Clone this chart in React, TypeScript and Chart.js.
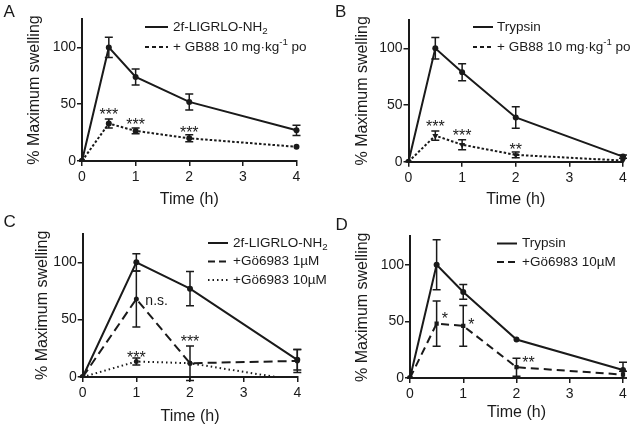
import React, { useEffect, useRef } from 'react';
import { Chart, registerables } from 'chart.js';

Chart.register(...registerables);

const FONT = '"Liberation Sans", Arial, Helvetica, sans-serif';
const INK = '#1a1a1a';

// ---------- Panel A: 2f-LIGRLO-NH2 +/- GB88 ----------
const timeA = [0, 0.5, 1, 2, 4];
const aAgonist = [0, 100, 74, 52, 27];
const aAgonistErr = [0, 9, 7, 7, 4.5];
const aGB88 = [0, 33, 26.5, 20, 12.5];
const aGB88Err = [0, 4, 2.6, 3, 0];
const aStarLabels = ['***', '***', '***'];
const aStarTimes = [0.5, 1, 2];
const aStarValues = [44, 35, 28];

// ---------- Panel B: Trypsin +/- GB88 ----------
const timeB = [0, 0.5, 1, 2, 4];
const bTrypsin = [0, 100, 79, 39, 4.5];
const bTrypsinErr = [0, 9.5, 7.5, 9.5, 1.5];
const bGB88 = [0, 23, 15, 6, 1];
const bGB88Err = [0, 4, 4.4, 2.6, 0];
const bStarLabels = ['***', '***', '**'];
const bStarTimes = [0.5, 1, 2];
const bStarValues = [34, 26, 14];

// ---------- Panel C: 2f-LIGRLO-NH2 +/- Gö6983 ----------
const timeC = [0, 1, 2, 4];
const cAgonist = [0, 100, 77, 15];
const cAgonistErr = [0, 7.5, 15, 9];
const cGo1 = [0, 68, 12, 14];
const cGo1Err = [0, 24.5, 15, 10];
const cGo10 = [0, 13.5, 12, -3];
const cGo10Err = [0, 3, 0, 0];
const cStarLabels = ['n.s.', '***', '***'];
const cStarTimes = [1, 1, 2];
const cStarValues = [66, 20, 34];

// ---------- Panel D: Trypsin +/- Gö6983 ----------
const timeD = [0, 0.5, 1, 2, 4];
const dTrypsin = [0, 100, 76, 34, 7];
const dTrypsinErr = [0, 22, 6.5, 0, 7];
const dGo10 = [0, 48, 46, 9.5, 3];
const dGo10Err = [0, 20, 18, 8, 3];
const dStarLabels = ['*', '*', '**'];
const dStarTimes = [0.5, 1, 2];
const dStarValues = [56, 50, 17];

// ---------- axes ----------
const xTickValues = [0, 1, 2, 3, 4];
const yTickValues = [0, 50, 100];
const yMax = 125;
const xTitle = 'Time (h)';
const yTitle = '% Maximum swelling';

type Seg = { t: string; sub?: boolean; sup?: boolean };
type SeriesCfg = {
  values: number[];
  errors: number[];
  dash: number[];
  width: number;
  pointStyle: string;
  pointRotation?: number;
  radius: number;
  legend: Seg[];
  legendDash: number[];
};
type PanelCfg = {
  letter: string;
  left: number;
  top: number;
  width: number;
  height: number;
  times: number[];
  series: SeriesCfg[];
  starLabels: string[];
  starTimes: number[];
  starValues: number[];
  starAlign: string[];
  starDx: number[];
  yWidth: number;
  padTop: number;
  padRight: number;
  xHeight: number;
  yTitlePad: number;
  xTitlePad: number;
  legX0: number;
  legX1: number;
  legTx: number;
  legRows: number[];
  letterX: number;
  letterY: number;
};

const agonistLabel: Seg[] = [{ t: '2f-LIGRLO-NH' }, { t: '2', sub: true }];
const gb88Label: Seg[] = [{ t: '+ GB88 10 mg\u00b7kg' }, { t: '-1', sup: true }, { t: ' po' }];
const trypsinLabel: Seg[] = [{ t: 'Trypsin' }];

const SOLID: number[] = [];
const DOTTED = [2.5, 2];
const DASHED = [9, 5];

const panels: PanelCfg[] = [
  {
    letter: 'A', left: 0, top: 0, width: 315, height: 213, times: timeA,
    series: [
      { values: aAgonist, errors: aAgonistErr, dash: SOLID, width: 2, pointStyle: 'circle', radius: 3, legend: agonistLabel, legendDash: SOLID },
      { values: aGB88, errors: aGB88Err, dash: DOTTED, width: 2, pointStyle: 'circle', radius: 3, legend: gb88Label, legendDash: [4, 3] },
    ],
    starLabels: aStarLabels, starTimes: aStarTimes, starValues: aStarValues,
    starAlign: ['center', 'center', 'center'], starDx: [0, 0, 0],
    yWidth: 82, padTop: 19, padRight: 18.5, xHeight: 52, yTitlePad: 25, xTitlePad: 3.7,
    legX0: 145, legX1: 168, legTx: 173, legRows: [27, 47], letterX: 3.5, letterY: 17,
  },
  {
    letter: 'B', left: 315, top: 0, width: 315, height: 213, times: timeB,
    series: [
      { values: bTrypsin, errors: bTrypsinErr, dash: SOLID, width: 2, pointStyle: 'circle', radius: 3, legend: trypsinLabel, legendDash: SOLID },
      { values: bGB88, errors: bGB88Err, dash: DOTTED, width: 2, pointStyle: 'triangle', pointRotation: 180, radius: 3.5, legend: gb88Label, legendDash: [4, 3] },
    ],
    starLabels: bStarLabels, starTimes: bStarTimes, starValues: bStarValues,
    starAlign: ['center', 'center', 'center'], starDx: [0, 0, 0],
    yWidth: 93.5, padTop: 20, padRight: 7, xHeight: 51.3, yTitlePad: 38, xTitlePad: 3.7,
    legX0: 158, legX1: 178, legTx: 182, legRows: [27, 47], letterX: 20, letterY: 17,
  },
  {
    letter: 'C', left: 0, top: 213, width: 345, height: 214, times: timeC,
    series: [
      { values: cAgonist, errors: cAgonistErr, dash: SOLID, width: 2, pointStyle: 'circle', radius: 3, legend: agonistLabel, legendDash: SOLID },
      { values: cGo1, errors: cGo1Err, dash: DASHED, width: 2, pointStyle: 'circle', radius: 2.5, legend: [{ t: '+G\u00f66983 1\u00b5M' }], legendDash: [7, 4] },
      { values: cGo10, errors: cGo10Err, dash: [1.5, 3], width: 2, pointStyle: 'circle', radius: 2.5, legend: [{ t: '+G\u00f66983 10\u00b5M' }], legendDash: [1.5, 3] },
    ],
    starLabels: cStarLabels, starTimes: cStarTimes, starValues: cStarValues,
    starAlign: ['left', 'center', 'center'], starDx: [9, 0, 0],
    yWidth: 82.7, padTop: 20.6, padRight: 47.7, xHeight: 50, yTitlePad: 33, xTitlePad: 0.7,
    legX0: 208, legX1: 228, legTx: 233, legRows: [30, 48.5, 67], letterX: 3.5, letterY: 14,
  },
  {
    letter: 'D', left: 315, top: 213, width: 315, height: 214, times: timeD,
    series: [
      { values: dTrypsin, errors: dTrypsinErr, dash: SOLID, width: 2, pointStyle: 'circle', radius: 3, legend: trypsinLabel, legendDash: SOLID },
      { values: dGo10, errors: dGo10Err, dash: [8, 5], width: 2, pointStyle: 'rect', radius: 3, legend: [{ t: '+G\u00f66983 10\u00b5M' }], legendDash: [7, 4] },
    ],
    starLabels: dStarLabels, starTimes: dStarTimes, starValues: dStarValues,
    starAlign: ['left', 'left', 'center'], starDx: [5, 5, 12],
    yWidth: 95, padTop: 23.4, padRight: 7, xHeight: 49, yTitlePad: 38, xTitlePad: 5,
    legX0: 182, legX1: 202, legTx: 207, legRows: [30.5, 49], letterX: 20.5, letterY: 17.3,
  },
];

function drawSegs(ctx: CanvasRenderingContext2D, x: number, y: number, segs: Seg[], size: number) {
  let cx = x;
  for (const s of segs) {
    const fs = s.sub || s.sup ? size * 0.72 : size;
    ctx.font = `${fs}px ${FONT}`;
    const dy = s.sub ? size * 0.3 : s.sup ? -size * 0.33 : 0;
    ctx.fillText(s.t, cx, y + dy);
    cx += ctx.measureText(s.t).width;
  }
}

const extrasPlugin = {
  id: 'extras',
  afterDatasetsDraw(chart: any) {
    const p: PanelCfg = chart.options.plugins.extras?.panel;
    if (!p) return;
    const ctx: CanvasRenderingContext2D = chart.ctx;
    const xs = chart.scales.x;
    const ys = chart.scales.y;
    ctx.save();

    // error bars
    ctx.strokeStyle = INK;
    ctx.lineWidth = 1.5;
    ctx.setLineDash([]);
    p.series.forEach((s) => {
      s.values.forEach((v, i) => {
        const e = s.errors[i];
        if (!e) return;
        const x = xs.getPixelForValue(p.times[i]);
        const y1 = ys.getPixelForValue(v + e);
        const y2 = ys.getPixelForValue(v - e);
        ctx.beginPath();
        ctx.moveTo(x, y1);
        ctx.lineTo(x, y2);
        ctx.moveTo(x - 4, y1);
        ctx.lineTo(x + 4, y1);
        ctx.moveTo(x - 4, y2);
        ctx.lineTo(x + 4, y2);
        ctx.stroke();
      });
    });

    // significance labels
    ctx.fillStyle = INK;
    ctx.textBaseline = 'alphabetic';
    p.starLabels.forEach((lab, i) => {
      const isStar = /^\*+$/.test(lab);
      const size = isStar ? 16 : 14;
      ctx.font = `${size}px ${FONT}`;
      ctx.textAlign = p.starAlign[i] as CanvasTextAlign;
      const x = xs.getPixelForValue(p.starTimes[i]) + p.starDx[i];
      const y = ys.getPixelForValue(p.starValues[i]) + (isStar ? size * 0.57 : size * 0.27);
      ctx.fillText(lab, x, y);
    });

    // legend
    ctx.textAlign = 'left';
    ctx.textBaseline = 'middle';
    p.series.forEach((s, i) => {
      const y = p.legRows[i];
      ctx.beginPath();
      ctx.lineWidth = 2;
      ctx.setLineDash(s.legendDash);
      ctx.moveTo(p.legX0, y);
      ctx.lineTo(p.legX1, y);
      ctx.stroke();
      ctx.setLineDash([]);
      drawSegs(ctx, p.legTx, y, s.legend, 13.5);
    });

    // panel letter
    ctx.textBaseline = 'alphabetic';
    ctx.font = `17px ${FONT}`;
    ctx.fillText(p.letter, p.letterX, p.letterY);
    ctx.restore();
  },
};

function Panel({ p }: { p: PanelCfg }) {
  const ref = useRef<HTMLCanvasElement | null>(null);
  useEffect(() => {
    if (!ref.current) return;
    const tickFont = { family: FONT, size: 14 };
    const titleFont = { family: FONT, size: 16 };
    const chart = new Chart(ref.current, {
      type: 'line',
      data: {
        datasets: p.series.map((s) => ({
          data: p.times.map((t, i) => ({ x: t, y: s.values[i] })),
          borderColor: INK,
          backgroundColor: INK,
          borderWidth: s.width,
          borderDash: s.dash,
          tension: 0,
          fill: false,
          pointStyle: s.pointStyle as any,
          rotation: s.pointRotation || 0,
          pointRadius: s.radius,
          pointBackgroundColor: INK,
          pointBorderColor: INK,
          pointBorderWidth: 0,
          clip: { left: 6, right: 6, top: 6, bottom: 1 } as any,
        })),
      },
      options: {
        responsive: false,
        animation: false,
        devicePixelRatio: 1,
        layout: { padding: { left: 0, top: p.padTop, right: p.padRight, bottom: 0 } },
        plugins: {
          legend: { display: false },
          tooltip: { enabled: false },
          extras: { panel: p },
        } as any,
        scales: {
          x: {
            type: 'linear',
            min: 0,
            max: 4,
            afterBuildTicks: (s: any) => { s.ticks = xTickValues.map((v) => ({ value: v })); },
            afterFit: (s: any) => { s.height = p.xHeight; },
            ticks: { font: tickFont, color: INK, padding: 3 },
            grid: { display: true, drawOnChartArea: false, drawTicks: true, tickLength: 5, color: INK, lineWidth: 1.5 },
            border: { display: true, color: INK, width: 2 },
            title: { display: true, text: xTitle, font: titleFont, color: INK, padding: { top: 0, bottom: p.xTitlePad } },
          },
          y: {
            type: 'linear',
            min: 0,
            max: yMax,
            afterBuildTicks: (s: any) => { s.ticks = yTickValues.map((v) => ({ value: v })); },
            afterFit: (s: any) => { s.width = p.yWidth; },
            ticks: { font: tickFont, color: INK, padding: 1 },
            grid: { display: true, drawOnChartArea: false, drawTicks: true, tickLength: 5, color: INK, lineWidth: 1.5 },
            border: { display: true, color: INK, width: 2 },
            title: { display: true, text: yTitle, font: titleFont, color: INK, padding: { top: p.yTitlePad, bottom: 0 } },
          },
        },
      },
      plugins: [extrasPlugin],
    });
    return () => chart.destroy();
  }, [p]);
  return (
    <canvas
      ref={ref}
      width={p.width}
      height={p.height}
      style={{ position: 'absolute', left: p.left, top: p.top, width: p.width, height: p.height, display: 'block' }}
    />
  );
}

export default function App() {
  return (
    <div style={{ position: 'fixed', left: 0, top: 0, width: 630, height: 427, background: '#fff', overflow: 'hidden' }}>
      {panels.map((p) => (
        <Panel key={p.letter} p={p} />
      ))}
    </div>
  );
}
